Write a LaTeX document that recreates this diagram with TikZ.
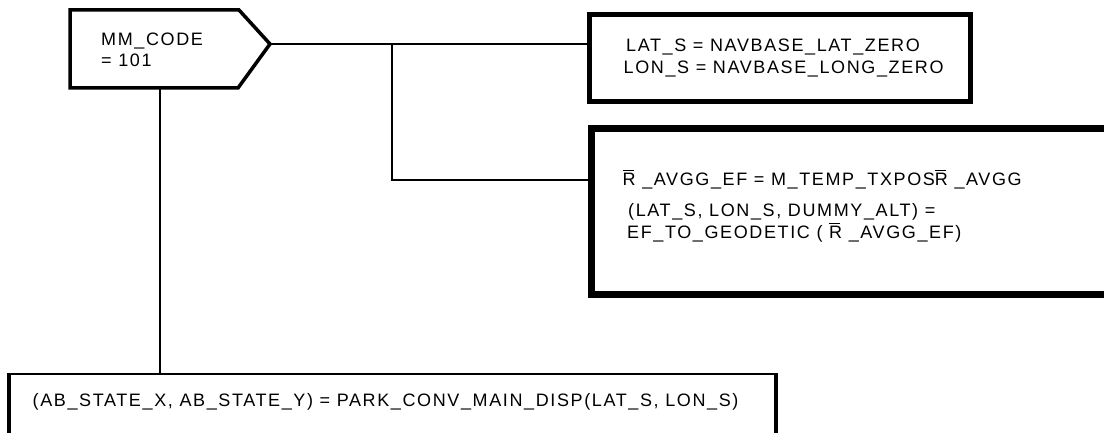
\documentclass[tikz,border=0pt]{standalone}
\usepackage{fontspec}
\setmainfont{Liberation Sans}[LetterSpace=9]
\newcommand\ovR{\makebox[0pt][l]{\rule[14.5pt]{11pt}{1.2pt}}R}
\begin{document}
\begin{tikzpicture}[x=1pt,y=-1pt,
  txt/.style={anchor=base west,inner sep=0pt,font=\fontsize{18}{20}\selectfont},
  conn/.style={line width=2pt},
  pent/.style={line width=3.5pt,line join=miter},
  boxa/.style={draw,line width=5pt,inner sep=0pt,fill=none},
  boxb/.style={draw,line width=7pt,inner sep=0pt},
  boxc/.style={draw,line width=2pt,inner sep=0pt},
  side/.style={line width=4.5pt}]
\useasboundingbox (0,0) rectangle (1104,433);
\fill[white] (0,0) rectangle (1104,433);
% decision pentagon
\draw[pent] (70,10) -- (239,10) -- (270,44) -- (238,88) -- (70,88) -- cycle;
\coordinate (tip) at (270,44);
\coordinate (pbot) at (160,88);
\node[txt] (mm1) at (101,45.7) {MM\_CODE};
\node[txt] (mm2) at (101,66.7) {= 101};
% boxes
\node[boxa,minimum width=381.5pt,minimum height=87.5pt] (b1) at (779.75,58.25) {};
\node[boxb,minimum width=524pt,minimum height=166pt] (b2) at (853,211.5) {};
\node[boxc,minimum width=765pt,minimum height=80pt] (b3) at (392.5,414) {};
\draw[side] (b3.north west) -- (b3.south west);
\draw[side] (b3.north east) -- (b3.south east);
% connectors
\coordinate (j1) at (392,44);
\coordinate (j2) at (392,180);
\draw[conn] (tip) -- (tip -| b1.west);
\draw[conn] (j1) -- (j2) -- (j2 -| b2.west);
\draw[conn] (pbot) -- (pbot |- b3.north);
% texts
\node[txt] (t1) at (626,51.7) {LAT\_S = NAVBASE\_LAT\_ZERO};
\node[txt] (t2) at (623.5,73.3) {LON\_S = NAVBASE\_LONG\_ZERO};
\node[txt] (t3) at (622.5,185.7) {\ovR{} \_AVGG\_EF = M\_TEMP\_TXPOS\ovR{} \_AVGG};
\node[txt] (t4) at (628,217) {(LAT\_S, LON\_S, DUMMY\_ALT) =};
\node[txt] (t5) at (627,238.3) {EF\_TO\_GEODETIC ( \ovR{} \_AVGG\_EF)};
\node[txt] (t6) at (32.5,406) {(AB\_STATE\_X, AB\_STATE\_Y) = PARK\_CONV\_MAIN\_DISP(LAT\_S, LON\_S)};
\end{tikzpicture}
\end{document}
